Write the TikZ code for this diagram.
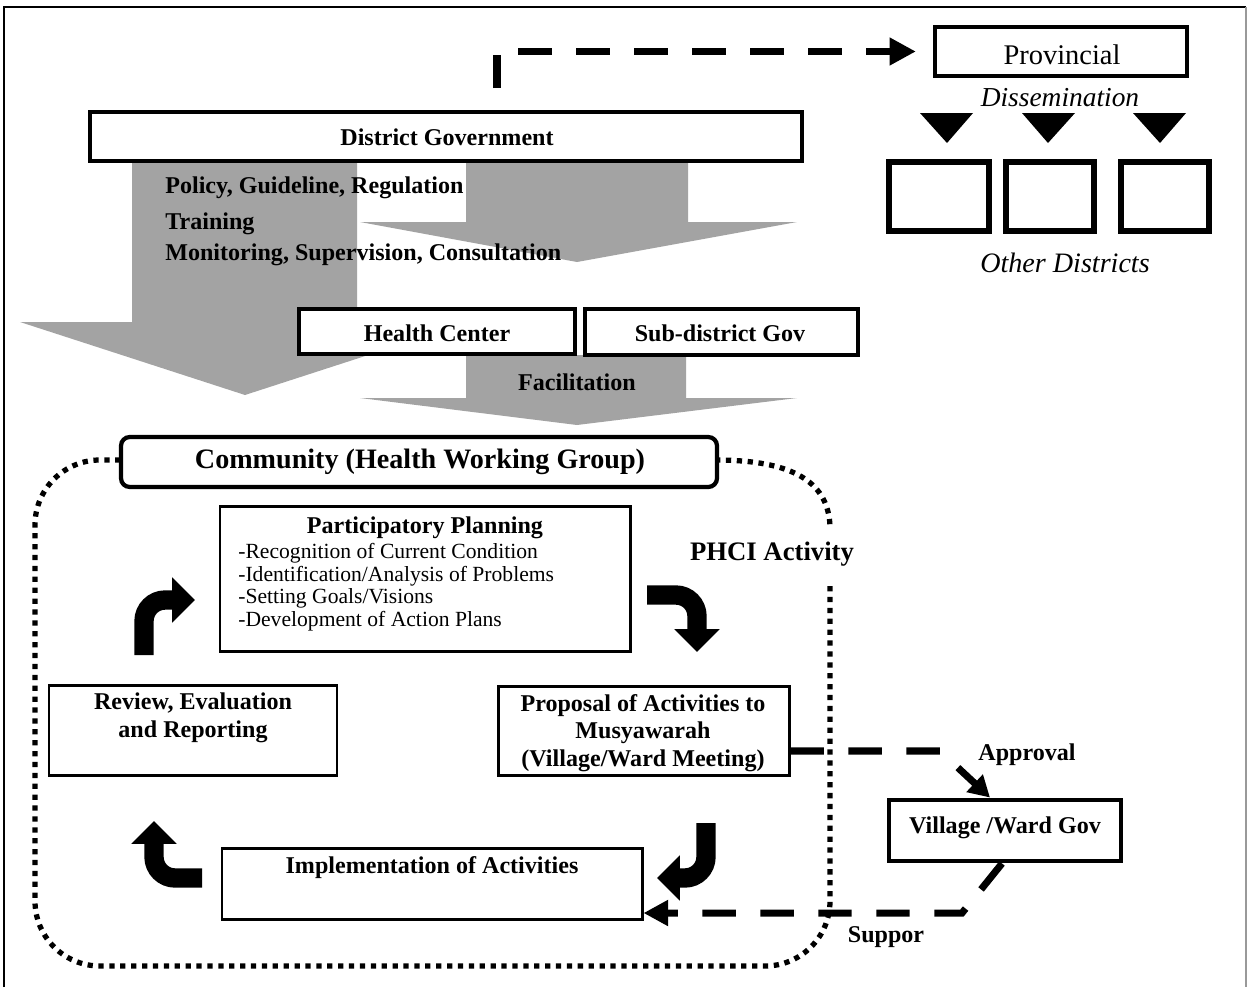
\documentclass[tikz,border=0pt]{standalone}
\usepackage{fontspec}
\setmainfont{Liberation Serif}
\usetikzlibrary{arrows.meta,fit,calc}

\begin{document}
\begin{tikzpicture}[x=0.02cm, y=-0.02cm,
  framebox/.style={draw, fill=white, inner sep=0pt, line width=2.4pt},
  thinbox/.style={framebox, line width=1.7pt},
  heavybox/.style={framebox, line width=3.8pt},
  boldtxt/.style={font=\fontsize{13.7}{15.8}\selectfont\bfseries, inner sep=0pt},
  bigbold/.style={font=\fontsize{16}{19}\selectfont\bfseries, inner sep=0pt},
  itemtxt/.style={font=\fontsize{12.3}{14}\selectfont, inner sep=0pt, anchor=west},
  itxt/.style={font=\fontsize{15.6}{18}\selectfont\itshape, inner sep=0pt},
  shadearrow/.style={fill=black!36},
  curvy/.style={line width=11pt, rounded corners=12pt, -{Triangle[length=13pt,width=25pt]}},
  dashconn/.style={line width=4pt, dash pattern=on 19pt off 14pt},
  dotline/.style={line width=3pt, dash pattern=on 3pt off 3.2pt}
]
\useasboundingbox (0,0) rectangle (1250,987);

% page frame
\draw[line width=1pt] (4,987) -- (4,7) -- (1246,7);
\draw[line width=1pt, black!40] (1246,7) -- (1246,987);

% shaded block arrows from the district level
\fill[shadearrow] (132,161) -- (357,161) -- (357,322) -- (470,322) -- (245,395)
  -- (20,322) -- (132,322) -- cycle;
\fill[shadearrow] (466,161) -- (688,161) -- (688,222) -- (797,222) -- (577,262)
  -- (360,222) -- (466,222) -- cycle;
\fill[shadearrow] (466,355) -- (686,355) -- (686,398) -- (797,398) -- (577,425)
  -- (360,398) -- (466,398) -- cycle;

% district government
\node[framebox, fit={(90,112) (802,161)}] (dg) {};
\node[boldtxt] (dgtxt) at (447,137) {District Government};
\node[boldtxt, anchor=base west] (pol1) at (165,193) {Policy, Guideline, Regulation};
\node[boldtxt, anchor=base west] (pol2) at (165,229) {Training};
\node[boldtxt, anchor=base west] (pol3) at (165,260) {Monitoring, Supervision, Consultation};

% provincial level and other districts
\node[framebox, line width=2.8pt, fit={(935,27) (1187,76)}] (prov) {};
\node[font=\fontsize{16.2}{19}\selectfont, inner sep=0pt] (provtxt) at (1062,55) {Provincial};
\node[itxt] (dissem) at (1060,98) {Dissemination};
\fill (920,113) -- (973,113) -- (947,143) -- cycle;
\fill (1022,113) -- (1075,113) -- (1048,143) -- cycle;
\fill (1133,113) -- (1186,113) -- (1160,143) -- cycle;
\node[heavybox, fit={(889,162) (989,231)}] (od1) {};
\node[heavybox, fit={(1006,162) (1094,231)}] (od2) {};
\node[heavybox, fit={(1121,162) (1209,231)}] (od3) {};
\node[itxt, font=\fontsize{16}{19}\selectfont\itshape] (othd) at (1065,263) {Other Districts};

\coordinate (dgup) at (497,88);
\draw[dashconn, -{Triangle[length=15pt,width=15pt]}, shorten >=9.5pt] (dgup) |- (prov.west);

% health center and sub-district
\node[framebox, fit={(299,309) (575,354)}] (hc) {};
\node[boldtxt] (hctxt) at (437,333) {Health Center};
\node[framebox, fit={(585,309) (858,355)}] (sd) {};
\node[boldtxt] (sdtxt) at (720,333) {Sub-district Gov};
\node[boldtxt] (facil) at (577,382) {Facilitation};

% PHCI activity boundary
\draw[dotline, rounded corners=1.3cm] (830,586) -- (830,966) -- (35,966) -- (35,460) -- (125,460);
\draw[dotline] (715,460) .. controls (790,460) and (828,480) .. (830,526);
\node[font=\fontsize{15.2}{18}\selectfont\bfseries, inner sep=0pt] (phci) at (772,554) {PHCI Activity};

% community
\node[framebox, rounded corners=5pt, fit={(121,437) (717,487)}] (cm) {};
\node[bigbold] (cmtxt) at (420,462) {Community (Health Working Group)};

% planning cycle
\node[thinbox, fit={(220,506) (630,651)}] (pp) {};
\node[boldtxt] (pptitle) at (425,528) {Participatory Planning};
\node[itemtxt] (pp1) at (238,553) {-Recognition of Current Condition};
\node[itemtxt] (pp2) at (238,576) {-Identification/Analysis of Problems};
\node[itemtxt] (pp3) at (238,598) {-Setting Goals/Visions};
\node[itemtxt] (pp4) at (238,621) {-Development of Action Plans};

\node[thinbox, fit={(49,685) (337,775)}] (rv) {};
\node[boldtxt, align=center] (rvtxt) at (193,718) {Review, Evaluation\\and Reporting};

\node[thinbox, fit={(498,686) (789,775)}] (pr) {};
\node[boldtxt, align=center] (prtxt) at (643,733)
  {Proposal of Activities to\\Musyawarah\\(Village/Ward Meeting)};

\node[thinbox, fit={(222,848) (642,919)}] (im) {};
\node[boldtxt] (imtxt) at (432,868) {Implementation of Activities};

% bent arrows of the cycle
\coordinate (c1s) at (144,655);  \coordinate (c1e) at (195,600);
\coordinate (c2s) at (647,595);  \coordinate (c2e) at (697,652);
\coordinate (c3s) at (706,823);  \coordinate (c3e) at (657,878);
\coordinate (c4s) at (202,878);  \coordinate (c4e) at (154,821);
\draw[curvy] (c1s) |- (c1e);
\draw[curvy] (c2s) -| (c2e);
\draw[curvy] (c3s) |- (c3e);
\draw[curvy] (c4s) -| (c4e);

% village / ward government
\node[framebox, line width=2.8pt, fit={(889,800) (1121,861)}] (vw) {};
\node[boldtxt] (vwtxt) at (1005,828) {Village /Ward Gov};

\coordinate (aprow) at (0,751);
\coordinate (apbend) at (940,751);
\draw[dashconn, -{Triangle[length=12pt,width=13pt]}]
  (pr.east |- aprow) -- (apbend) -- ([xshift=-15*0.02cm]vw.north);
\node[boldtxt] (aplbl) at (1027,755) {Approval};

\coordinate (suprow) at (0,913);
\coordinate (supbend) at (962,913);
\draw[dashconn, -{Triangle[length=14pt,width=14pt]}]
  ([xshift=-3*0.02cm]vw.south) -- (supbend) -- (im.east |- suprow);
\node[boldtxt] (suplbl) at (886,937) {Suppor};

\end{tikzpicture}
\end{document}
